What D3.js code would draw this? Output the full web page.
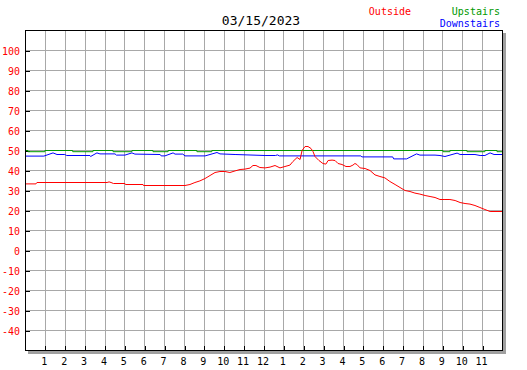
<!DOCTYPE html>
<html>
<head>
<meta charset="utf-8">
<script src="https://cdn.jsdelivr.net/npm/d3@7"></script>
<style>
    body { margin: 0; background: #fff; }
    svg { display: block; font-family: "DejaVu Sans Mono", monospace; }
</style>
</head>
<body>
<svg id="chart" width="527" height="370"></svg>
<script>
const TITLE = '03/15/2023';

// x tick labels, one per hour line (1am .. 11pm)
const hourLabels = ['1','2','3','4','5','6','7','8','9','10','11','12',
                    '1','2','3','4','5','6','7','8','9','10','11'];
const tempTicks = [100, 90, 80, 70, 60, 50, 40, 30, 20, 10, 0, -10, -20, -30, -40];

// Outside (red)
const outsideHours = [0, 0.55, 0.6, 4.13, 4.23, 4.33, 4.45, 5.03, 5.05, 5.94, 5.96, 8.05,
    8.3, 8.55, 8.8, 9.06, 9.31, 9.56, 9.81, 10.06, 10.31, 10.57, 10.82, 11.07, 11.32, 11.47,
    11.62, 11.82, 12.08, 12.33, 12.58, 12.83, 13.08, 13.33, 13.48, 13.69, 13.84, 13.94, 14.09,
    14.24, 14.39, 14.49, 14.59, 14.79, 14.99, 15.14, 15.25, 15.45, 15.6, 15.75, 15.95, 16.15,
    16.35, 16.5, 16.6, 16.7, 16.86, 17.11, 17.36, 17.61, 17.86, 18.11, 18.36, 18.62, 18.87,
    19.12, 19.37, 19.62, 19.87, 20.13, 20.38, 20.63, 20.88, 21.13, 21.38, 21.64, 21.89, 22.14,
    22.39, 22.64, 22.89, 23.14, 23.4, 24];
const outsideTemps = [33.3, 33.3, 34, 34, 34.3, 34, 33.5, 33.5, 33, 33, 32.5, 32.5,
    33, 34, 34.8, 36, 37.5, 39, 39.5, 39.5, 39, 39.8, 40.5, 40.7, 41.2, 42.5,
    42.5, 41.5, 41.3, 41.7, 42.5, 41.3, 42, 42.7, 44.5, 46.5, 45.5, 50, 52,
    52, 51, 49.5, 47, 45, 43.5, 43.2, 45, 45.2, 45, 43.5, 43, 42,
    42, 42.7, 43.5, 43, 41.3, 41, 40, 37.8, 37, 36.3, 34.5, 33, 31.5,
    30, 29.5, 28.7, 28.2, 27.5, 27, 26.5, 25.5, 25.5, 25.5, 25, 24, 23.5,
    23.2, 22.5, 21.5, 20.5, 19.5, 19.5];

// Upstairs (green), values hold until the next hour mark
const upstairsHours = [0, 0.15, 1.0, 2.4, 3.42, 4.43, 5.38, 6.44, 7.2, 8.65, 9.4,
    21.03, 21.38, 22.24, 23.14, 23.75, 24];
const upstairsTemps = [50, 49.4, 50, 49.4, 50, 49.4, 50, 49.4, 50, 49.4, 50,
    49.4, 50, 49.4, 50, 49.4, 49.4];

// Downstairs (blue)
const downstairsHours = [0, 0.95, 1.41, 1.61, 2.0, 2.1, 3.27, 3.3, 3.62, 3.77, 4.53, 4.6,
    5.03, 5.38, 5.53, 6.8, 6.85, 7.04, 7.45, 7.55, 7.94, 8.05, 9.06, 9.66, 9.81, 10.57,
    12.08, 12.6, 12.7, 12.8, 16.9, 16.95, 18.5, 18.55, 19.2, 19.7, 19.87, 20.63, 20.88,
    21.13, 21.74, 21.89, 22.64, 22.9, 23.14, 23.4, 23.6, 24];
const downstairsTemps = [47.2, 47.2, 48.8, 48, 48, 47.5, 47.5, 47, 48.8, 48.3, 48.3, 47.7,
    47.7, 48.8, 48.2, 48, 47.3, 47.3, 48.8, 48.2, 48.2, 47.3, 47.3, 49, 48.3, 48,
    47.5, 47.5, 47.8, 47.3, 47.3, 46.8, 46.8, 45.8, 45.8, 48.3, 47.7, 47.7, 47.5,
    47, 48.7, 48, 48, 47.5, 47.5, 48.8, 48, 48];

const legend = [
    { name: 'Outside', color: '#ff0000', x: 411, y: 15 },
    { name: 'Upstairs', color: '#009900', x: 500, y: 15 },
    { name: 'Downstairs', color: '#0000ff', x: 500, y: 27 }
];

const plotLeft = 25, plotRight = 502, plotTop = 30, plotBottom = 350;

const svg = d3.select('#chart');

const x = d3.scaleLinear().domain([0, 24]).range([plotLeft, plotRight]);
const y = d3.scaleLinear().domain([-50, 110]).range([plotBottom, plotTop]);

// drop shadow + plot box
svg.append('rect')
    .attr('x', plotLeft + 3).attr('y', plotTop + 3)
    .attr('width', plotRight - plotLeft + 1).attr('height', plotBottom - plotTop + 1)
    .attr('fill', '#a0a0a0');
svg.append('rect')
    .attr('x', plotLeft).attr('y', plotTop)
    .attr('width', plotRight - plotLeft).attr('height', plotBottom - plotTop)
    .attr('fill', '#fff');

const grid = svg.append('g')
    .attr('stroke', '#a8a8a8')
    .attr('stroke-width', 1)
    .attr('shape-rendering', 'crispEdges');

grid.selectAll('line.v')
    .data(d3.range(1, 24))
    .join('line')
    .attr('class', 'v')
    .attr('x1', d => x(d) + 0.5).attr('x2', d => x(d) + 0.5)
    .attr('y1', plotTop).attr('y2', plotBottom);

grid.selectAll('line.h')
    .data(tempTicks)
    .join('line')
    .attr('class', 'h')
    .attr('x1', plotLeft).attr('x2', plotRight)
    .attr('y1', d => y(d) + 0.5).attr('y2', d => y(d) + 0.5);

// left axis: inward ticks + red labels
const yAxis = d3.axisRight(y)
    .tickValues(tempTicks)
    .tickSize(5)
    .tickFormat('');
svg.append('g')
    .attr('transform', `translate(${plotLeft},0.5)`)
    .attr('shape-rendering', 'crispEdges')
    .call(yAxis)
    .call(g => g.select('.domain').remove())
    .call(g => g.selectAll('.tick line').attr('stroke', '#000'));

svg.append('g').selectAll('text')
    .data(tempTicks)
    .join('text')
    .attr('x', 20)
    .attr('y', d => y(d) + 4.5)
    .attr('text-anchor', 'end')
    .attr('font-size', 10)
    .attr('fill', '#ff0000')
    .text(d => d);

// bottom axis: inward ticks + hour labels
const xAxis = d3.axisTop(x)
    .tickValues(d3.range(1, 24))
    .tickSize(4)
    .tickFormat('');
svg.append('g')
    .attr('transform', `translate(0.5,${plotBottom})`)
    .attr('shape-rendering', 'crispEdges')
    .call(xAxis)
    .call(g => g.select('.domain').remove())
    .call(g => g.selectAll('.tick line').attr('stroke', '#000'));

svg.append('g').selectAll('text')
    .data(hourLabels)
    .join('text')
    .attr('x', (d, i) => x(i + 1) - 0.5)
    .attr('y', 365)
    .attr('text-anchor', 'middle')
    .attr('font-size', 10)
    .attr('fill', '#000')
    .text(d => d);

// series
function drawSeries(hours, temps, color, curve) {
    const pts = hours.map((h, i) => [h, temps[i]]);
    svg.append('path')
        .datum(pts)
        .attr('fill', 'none')
        .attr('stroke', color)
        .attr('stroke-width', 1)
        .attr('d', d3.line().x(d => x(d[0])).y(d => y(d[1]) + 0.5).curve(curve));
}
drawSeries(upstairsHours, upstairsTemps, '#009900', d3.curveStepAfter);
drawSeries(downstairsHours, downstairsTemps, '#0000ff', d3.curveLinear);
drawSeries(outsideHours, outsideTemps, '#ff0000', d3.curveLinear);

// frame on top
svg.append('rect')
    .attr('x', plotLeft + 0.5).attr('y', plotTop + 0.5)
    .attr('width', plotRight - plotLeft).attr('height', plotBottom - plotTop)
    .attr('fill', 'none')
    .attr('stroke', '#000')
    .attr('stroke-width', 1.5)
    .attr('shape-rendering', 'crispEdges');

// title + legend
svg.append('text')
    .attr('x', 261).attr('y', 25)
    .attr('text-anchor', 'middle')
    .attr('font-size', 13)
    .attr('fill', '#000')
    .text(TITLE);

svg.append('g').selectAll('text')
    .data(legend)
    .join('text')
    .attr('x', d => d.x).attr('y', d => d.y)
    .attr('text-anchor', 'end')
    .attr('font-size', 10)
    .attr('fill', d => d.color)
    .text(d => d.name);
</script>
</body>
</html>
